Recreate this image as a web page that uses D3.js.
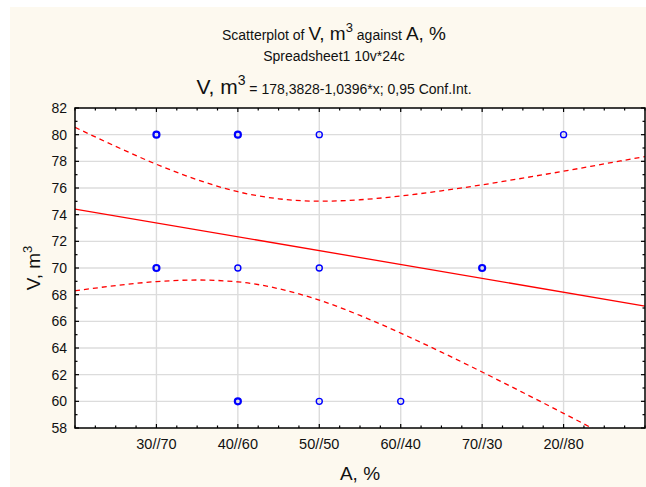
<!DOCTYPE html>
<html>
<head>
<meta charset="utf-8">
<script src="https://cdn.jsdelivr.net/npm/d3@7"></script>
<style>
  html, body { margin: 0; padding: 0; background: #fff; }
  svg { display: block; font-family: "Liberation Sans", Arial, sans-serif; }
</style>
</head>
<body>
<script>
// category codes on the x axis and their labels
const catCodes = [101, 102, 103, 104, 105, 106]
const catLabels = ['30//70', '40//60', '50//50', '60//40', '70//30', '20//80']

// observed cases: x code, V value, count of cases stacked on that spot
const pointX = [101, 101, 102, 102, 102, 103, 103, 103, 104, 105, 106]
const pointV = [80, 70, 80, 70, 60, 80, 70, 60, 60, 70, 80]
const pointN = [4, 4, 4, 1, 4, 1, 1, 1, 1, 2, 1]

// fitted line V = a + b*x
const fitA = 178.3828
const fitB = -1.0396

// 0.95 confidence band
const bandX = [100, 100.5, 101, 101.5, 102, 102.5, 103, 103.5, 104, 104.5, 105, 105.5, 106, 106.5, 107]
const bandUpper = [80.55, 79.12, 77.78, 76.62, 75.72, 75.19, 75.01, 75.12, 75.40, 75.79, 76.24, 76.74, 77.26, 77.81, 78.36]
const bandLower = [68.29, 68.68, 68.98, 69.10, 68.96, 68.45, 67.59, 66.44, 65.12, 63.69, 62.20, 60.66, 59.10, 57.51, 55.92]

const yTicks = [58, 60, 62, 64, 66, 68, 70, 72, 74, 76, 78, 80, 82]

const W = 646, H = 487
const plot = { left: 75, right: 645, top: 108, bottom: 428 }

const svg = d3.select('body').append('svg')
  .attr('width', W)
  .attr('height', H)

svg.append('rect')
  .attr('x', 10).attr('y', 7)
  .attr('width', W - 10).attr('height', H - 7)
  .attr('fill', '#fdf9ef')

const x = d3.scaleLinear().domain([100, 107]).range([plot.left, plot.right])
const y = d3.scaleLinear().domain([58, 82]).range([plot.bottom, plot.top])

svg.append('rect')
  .attr('x', plot.left).attr('y', plot.top)
  .attr('width', plot.right - plot.left).attr('height', plot.bottom - plot.top)
  .attr('fill', '#fff')

svg.append('clipPath').attr('id', 'clip')
  .append('rect')
  .attr('x', plot.left).attr('y', plot.top)
  .attr('width', plot.right - plot.left).attr('height', plot.bottom - plot.top)

// grid
const grid = svg.append('g').attr('stroke', '#dcdcdc').attr('stroke-width', 1.4)
grid.selectAll('.gy').data(yTicks.slice(1, -1)).join('line')
  .attr('x1', plot.left).attr('x2', plot.right)
  .attr('y1', d => y(d)).attr('y2', d => y(d))
grid.selectAll('.gx').data(catCodes).join('line')
  .attr('y1', plot.top).attr('y2', plot.bottom)
  .attr('x1', d => x(d)).attr('x2', d => x(d))

// bands and fit
const g = svg.append('g').attr('clip-path', 'url(#clip)')
const band = d3.line().x(d => x(d[0])).y(d => y(d[1])).curve(d3.curveMonotoneX)

g.append('path')
  .attr('d', band(bandX.map((v, i) => [v, bandUpper[i]])))
  .attr('fill', 'none').attr('stroke', '#ff0000').attr('stroke-width', 1.3)
  .attr('stroke-dasharray', '5,4')
g.append('path')
  .attr('d', band(bandX.map((v, i) => [v, bandLower[i]])))
  .attr('fill', 'none').attr('stroke', '#ff0000').attr('stroke-width', 1.3)
  .attr('stroke-dasharray', '5,4')

const xd = x.domain()
g.append('line')
  .attr('x1', x(xd[0])).attr('y1', y(fitA + fitB * xd[0]))
  .attr('x2', x(xd[1])).attr('y2', y(fitA + fitB * xd[1]))
  .attr('stroke', '#ff0000').attr('stroke-width', 1.3)

// points
svg.append('g').selectAll('circle')
  .data(pointX.map((v, i) => ({ x: v, v: pointV[i], n: pointN[i] })))
  .join('circle')
  .attr('cx', d => x(d.x)).attr('cy', d => y(d.v))
  .attr('r', 3)
  .attr('fill', 'none')
  .attr('stroke', '#0000ff')
  .attr('stroke-width', d => d.n > 1 ? 2.2 : 1.4)

// axes with inward ticks
const minorX = d3.range(100, 107.01, 0.25)
const minorY = d3.range(58, 82.01, 1)
const tickG = svg.append('g').attr('stroke', '#000').attr('stroke-width', 1.2)
function vTicks(yy, dir) {
  tickG.append('g').selectAll('line').data(minorX).join('line')
    .attr('x1', d => x(d)).attr('x2', d => x(d))
    .attr('y1', yy).attr('y2', d => yy + dir * (catCodes.includes(d) ? 4 : 2.5))
}
function hTicks(xx, dir) {
  tickG.append('g').selectAll('line').data(minorY).join('line')
    .attr('y1', d => y(d)).attr('y2', d => y(d))
    .attr('x1', xx).attr('x2', d => xx + dir * (d % 2 === 0 ? 4 : 2.5))
}
vTicks(plot.bottom, -1)
vTicks(plot.top, 1)
hTicks(plot.left, 1)
hTicks(plot.right, -1)

svg.append('rect')
  .attr('x', plot.left).attr('y', plot.top)
  .attr('width', plot.right - plot.left).attr('height', plot.bottom - plot.top)
  .attr('fill', 'none').attr('stroke', '#000').attr('stroke-width', 1.5)

// tick labels
svg.append('g').selectAll('text').data(yTicks).join('text')
  .attr('x', 67).attr('y', d => y(d) + 5)
  .attr('text-anchor', 'end').attr('font-size', 14).attr('fill', '#111')
  .text(d => d)

svg.append('g').selectAll('text').data(catCodes).join('text')
  .attr('x', d => x(d)).attr('y', 449)
  .attr('text-anchor', 'middle').attr('font-size', 14.5).attr('fill', '#111')
  .text((d, i) => catLabels[i])

// axis titles
svg.append('text')
  .attr('x', (plot.left + plot.right) / 2).attr('y', 480)
  .attr('text-anchor', 'middle').attr('font-size', 19).attr('fill', '#111')
  .text('A, %')

const yt = svg.append('text')
  .attr('transform', `translate(40,${(plot.top + plot.bottom) / 2}) rotate(-90)`)
  .attr('text-anchor', 'middle').attr('font-size', 19).attr('fill', '#111')
yt.append('tspan').text('V, m')
yt.append('tspan').attr('font-size', 13).attr('dy', -8).text('3')

// titles
const cx = 334
const t1 = svg.append('text').attr('x', cx).attr('y', 40)
  .attr('text-anchor', 'middle').attr('fill', '#111')
t1.append('tspan').attr('font-size', 14).text('Scatterplot of ')
t1.append('tspan').attr('font-size', 19).text('V, m')
t1.append('tspan').attr('font-size', 13).attr('dy', -8).text('3')
t1.append('tspan').attr('font-size', 14).attr('dy', 8).text(' against ')
t1.append('tspan').attr('font-size', 19).text('A, %')

svg.append('text').attr('x', cx).attr('y', 61)
  .attr('text-anchor', 'middle').attr('font-size', 14).attr('fill', '#111')
  .text('Spreadsheet1 10v*24c')

const t3 = svg.append('text').attr('x', cx).attr('y', 94)
  .attr('text-anchor', 'middle').attr('fill', '#111')
t3.append('tspan').attr('font-size', 21).text('V, m')
t3.append('tspan').attr('font-size', 14).attr('dy', -9).text('3')
t3.append('tspan').attr('font-size', 14).attr('dy', 9).text(' = 178,3828-1,0396*x; 0,95 Conf.Int.')
</script>
</body>
</html>
